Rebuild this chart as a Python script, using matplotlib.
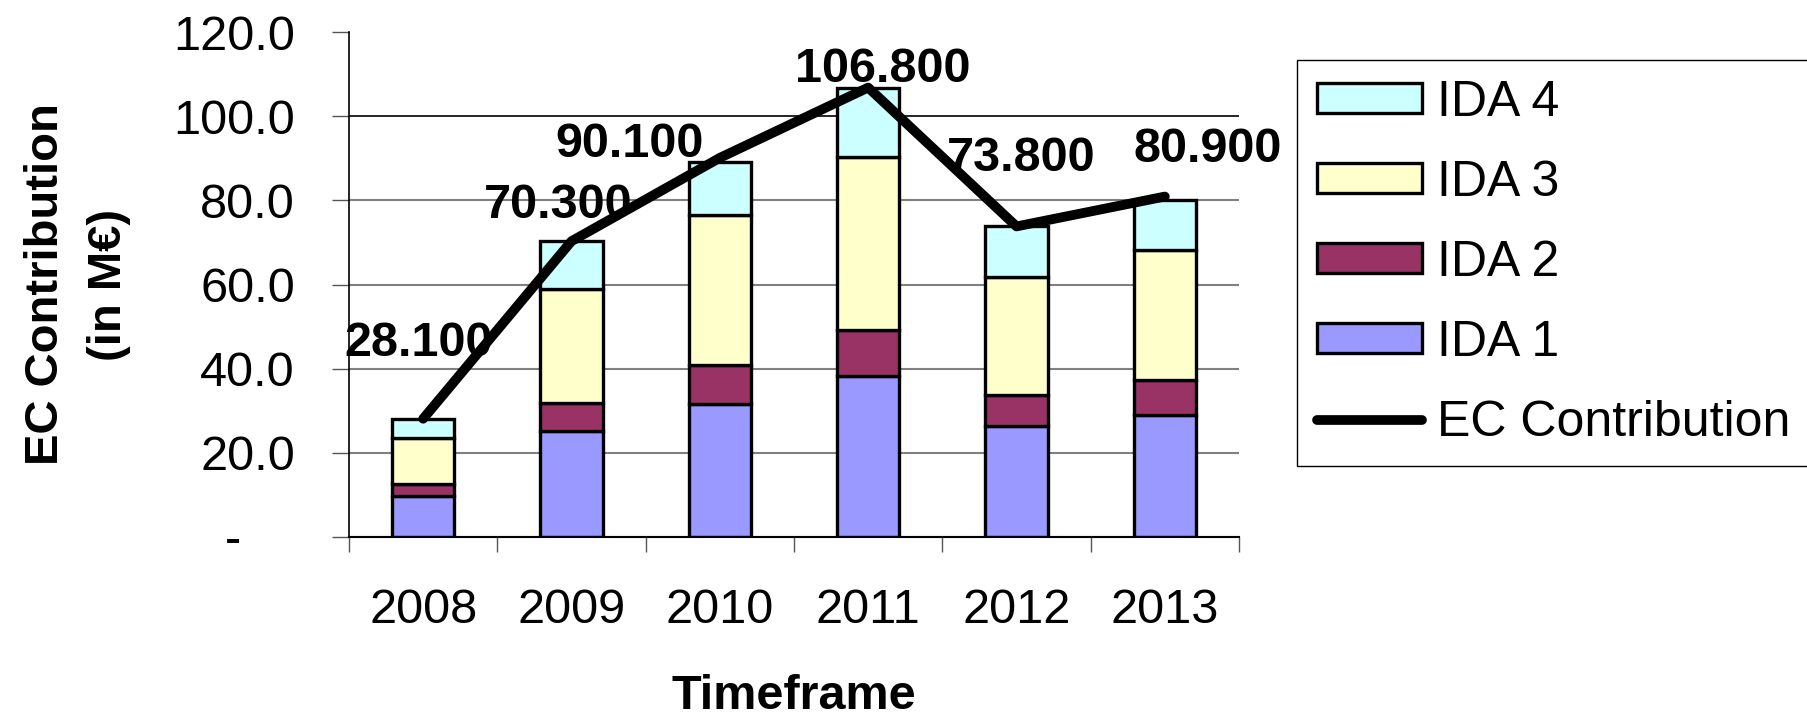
import matplotlib
matplotlib.use("Agg")
import matplotlib.pyplot as plt
from matplotlib.patches import Patch
from matplotlib.lines import Line2D
import numpy as np

plt.rcParams['font.family'] = ['Liberation Sans', 'DejaVu Sans']

# data (M EUR)
years = ["2008", "2009", "2010", "2011", "2012", "2013"]
ida1 = [9.8, 25.3, 31.6, 38.2, 26.3, 29.0]
ida2 = [2.9, 6.5, 9.2, 11.0, 7.4, 8.3]
ida3 = [10.9, 27.2, 35.7, 41.0, 28.2, 31.0]
ida4 = [4.5, 11.3, 12.5, 16.6, 11.9, 11.7]
ec_total = [28.1, 70.3, 90.1, 106.8, 73.8, 80.9]
y_ticks = [0, 20, 40, 60, 80, 100, 120]
y_ticklabels = ["-    ", "20.0", "40.0", "60.0", "80.0", "100.0", "120.0"]

# where the value labels sit (category offset, baseline height)
lbl_dx = [-0.03, -0.09, -0.61, 0.10, 0.03, 0.29]
lbl_y = [43.1, 75.7, 90.4, 108.1, 86.9, 89.0]

cols = ["#9999FF", "#993366", "#FFFFCC", "#CCFFFF"]
names = ["IDA 1", "IDA 2", "IDA 3", "IDA 4"]

fig = plt.figure(figsize=(18.07, 7.18), dpi=100)
ax = fig.add_axes([349/1807, 1-537/718, 890/1807, 505/718])

x = np.arange(len(years))
bottom = np.zeros(len(years))
for vals, c in zip([ida1, ida2, ida3, ida4], cols):
    ax.bar(x, vals, width=0.42, bottom=bottom, color=c, edgecolor="black",
           linewidth=2.4, zorder=2)
    bottom += np.array(vals)

ax.plot(x, ec_total, color="black", lw=7, solid_capstyle="round",
        solid_joinstyle="round", zorder=4)

for i, v in enumerate(ec_total):
    ax.text(i + lbl_dx[i], lbl_y[i], f"{v:.3f}", ha="center", va="baseline",
            fontsize=35, fontweight="bold", zorder=5)

ax.set_xlim(-0.5, 5.5)
ax.set_ylim(0, 120)
ax.set_yticks(y_ticks)
ax.set_yticklabels(y_ticklabels)
ax.set_xticks(x)
ax.set_xticklabels(years)
ax.set_xticks(np.arange(-0.5, 6, 1), minor=True)
ax.tick_params(axis="x", which="major", length=0, pad=37, labelsize=35)
ax.tick_params(axis="x", which="minor", length=11, width=1, color="#555555")
ax.tick_params(axis="y", length=12, width=1, color="#555555", pad=27, labelsize=35)

ax.yaxis.grid(True, color="#808080", lw=1.5, zorder=0)
ax.set_axisbelow(True)
gl = ax.get_ygridlines()
gl[-1].set_visible(False)
gl[5].set_color("black")
gl[5].set_linewidth(1.2)

for s in ["top", "right"]:
    ax.spines[s].set_visible(False)
ax.spines["left"].set_linewidth(1.2)
ax.spines["bottom"].set_linewidth(1.5)

ax.set_xlabel("Timeframe", fontsize=35, fontweight="bold", labelpad=29)
ax.set_ylabel("EC Contribution\n(in M€)", fontsize=34, fontweight="bold",
              va="center", linespacing=1.55)
ax.yaxis.set_label_coords(-0.305, 0.5)

handles = [Patch(facecolor=c, edgecolor="black", linewidth=2.4) for c in cols[::-1]]
handles.append(Line2D([0], [0], color="black", lw=7, solid_capstyle="round"))
labels = names[::-1] + ["EC Contribution"]
leg = fig.legend(handles, labels, loc="upper left",
                 bbox_to_anchor=(1297/1807, 1-60/718), fontsize=36,
                 frameon=True, fancybox=False, edgecolor="black", framealpha=1,
                 borderaxespad=0, borderpad=0.4, handlelength=2.1,
                 handleheight=0.55, handletextpad=0.3, labelspacing=0.68)
leg.get_frame().set_linewidth(1.0)

fig.savefig("out.png", dpi=100)
